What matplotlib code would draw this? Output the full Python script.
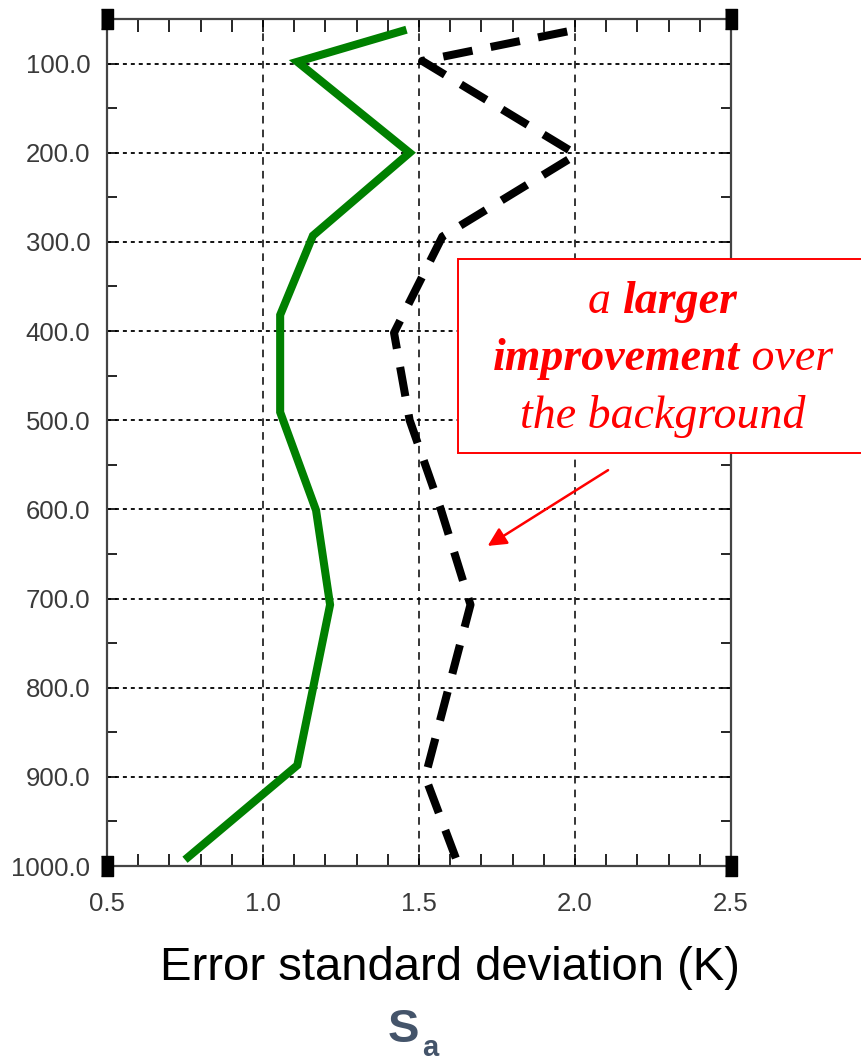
import matplotlib
matplotlib.use("Agg")
import matplotlib.pyplot as plt
from matplotlib.patches import Rectangle
from matplotlib.ticker import MultipleLocator, FixedLocator, FormatStrFormatter

# analysis error profile (green) and background error profile (black dashed)
anl_p = [62, 98, 200, 293, 382, 491, 601, 707, 887, 993]
anl_sd = [1.46, 1.11, 1.47, 1.16, 1.055, 1.055, 1.17, 1.215, 1.11, 0.75]

bkg_p = [64, 97, 202, 294, 402, 500, 600, 707, 900, 993]
bkg_sd = [1.975, 1.51, 2.005, 1.575, 1.42, 1.47, 1.57, 1.665, 1.52, 1.62]

y_major = [100, 200, 300, 400, 500, 600, 700, 800, 900, 1000]
x_major = [0.5, 1.0, 1.5, 2.0, 2.5]
x_grid = [1.0, 1.5, 2.0]

W, H = 861, 1060
fig = plt.figure(figsize=(W / 100, H / 100), dpi=100)
ax = fig.add_axes([107 / W, 1 - 866 / H, 624 / W, 847 / H])

ax.plot(anl_sd, anl_p, color="#008000", lw=5.8, solid_capstyle="butt",
        solid_joinstyle="miter", zorder=4)
ax.plot(bkg_sd, bkg_p, color="black", lw=5.8, dashes=(3.7, 2.3),
        dash_capstyle="butt", zorder=4)

ax.set_xlim(0.5, 2.5)
ax.set_ylim(1000, 50)

# grid: dotted pressure lines, dashed value lines
for p in y_major[:-1]:
    ax.axhline(p, color="black", lw=1.3, dashes=(2.2, 2.2), zorder=1)
for x in x_grid:
    ax.axvline(x, color="black", lw=1.1, dashes=(5, 4), zorder=1)

ax.yaxis.set_major_locator(FixedLocator(y_major))
ax.yaxis.set_minor_locator(FixedLocator([p + 50 for p in y_major[:-1]]))
ax.yaxis.set_major_formatter(FormatStrFormatter("%.1f"))
ax.xaxis.set_major_locator(FixedLocator(x_major))
ax.xaxis.set_minor_locator(MultipleLocator(0.1))
ax.xaxis.set_major_formatter(FormatStrFormatter("%.1f"))
for lab in ax.get_xticklabels() + ax.get_yticklabels():
    lab.set_fontfamily(["Liberation Sans", "DejaVu Sans"])
    lab.set_fontsize(18.5)
    lab.set_color("#3a3a3a")

ax.tick_params(axis="y", which="both", direction="in", left=True, right=True,
               length=7, width=1.2, pad=12)
ax.tick_params(axis="x", which="both", direction="in", top=True, bottom=True,
               length=9, width=1.2, pad=19)
for s in ax.spines.values():
    s.set_color("#444444")
    s.set_linewidth(1.6)

# black corner blocks
blk = [(-0.28, -0.5), (0.28, -0.5), (0.28, 0.5), (-0.28, 0.5)]
for cx, cy in [(0, 0), (1, 0), (0, 1), (1, 1)]:
    ax.plot(cx, cy, marker=blk, ms=15, color="black", transform=ax.transAxes,
            clip_on=False, zorder=6)

# callout box with mixed italic / bold-italic text
fig.patches.append(Rectangle((458 / W, 1 - 453 / H), 420 / W, 194 / H,
                             transform=fig.transFigure, facecolor="white",
                             edgecolor="#ff0000", lw=1.4, zorder=5))
serif = ["Liberation Serif", "DejaVu Serif"]
lines = [
    (313, [("a ", "normal"), ("larger", "bold")]),
    (370, [("improvement", "bold"), (" over", "normal")]),
    (428, [("the background", "normal")]),
]
fig.canvas.draw()
rend = fig.canvas.get_renderer()
for base, runs in lines:
    texts = []
    for s, wgt in runs:
        t = fig.text(0, 1 - base / H, s, color="#ff0000", fontsize=33,
                     family=serif, style="italic", weight=wgt,
                     va="baseline", ha="left", zorder=7)
        texts.append(t)
    widths = [t.get_window_extent(rend).width for t in texts]
    x0 = 663 - sum(widths) / 2
    for t, w in zip(texts, widths):
        t.set_x(x0 / W)
        x0 += w

ax.annotate("", xy=(1.72, 641), xytext=(2.106, 556),
            arrowprops=dict(arrowstyle="-|>", color="#ff0000", lw=1.8,
                            mutation_scale=28, shrinkA=0, shrinkB=0),
            annotation_clip=False, zorder=7)

fig.text(450 / W, 1 - 980 / H, "Error standard deviation (K)", ha="center",
         va="baseline", fontsize=34, family=["Liberation Sans", "DejaVu Sans"])
fig.text(388 / W, 1 - 1042 / H, "S", ha="left", va="baseline", fontsize=34,
         weight="bold", color="#44546A", family=["Liberation Sans", "DejaVu Sans"])
fig.text(422 / W, 1 - 1056 / H, "a", ha="left", va="baseline", fontsize=21,
         weight="bold", color="#44546A", family=["Liberation Sans", "DejaVu Sans"])

fig.savefig("out.png", dpi=100)
